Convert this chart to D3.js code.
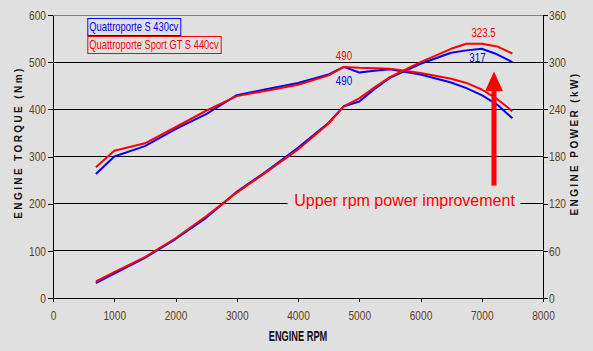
<!DOCTYPE html>
<html>
<head>
<meta charset="utf-8">
<script src="https://cdn.jsdelivr.net/npm/d3@7"></script>
<style>
  body { margin: 0; background: #e0e0e0; }
  svg { display: block; }
</style>
</head>
<body>
<div id="main_plot"></div>
<script>
// data
var rpm = [700, 1000, 1500, 2000, 2500, 3000, 3500, 4000, 4500, 4750, 5000, 5250, 5500, 6000, 6500, 6750, 7000, 7250, 7500];
var torqueS = [263, 300, 322, 358, 390, 430, 443, 456, 474, 490, 478, 482, 485, 474, 457, 445, 430, 410, 381];
var torqueGT = [277, 312, 328, 362, 397, 428, 440, 452, 472, 490, 488, 487, 486, 477, 465, 456, 442, 422, 396];
var powerS = [19, 31, 51, 75, 102, 135, 162, 191, 223, 244, 250, 266, 280, 298, 312, 315, 317, 310, 300];
var powerGT = [21, 33, 52, 76, 104, 134, 161, 189, 222, 244, 254, 268, 281, 300, 317, 323.5, 323.5, 320, 311];
var seriesNames = ["Quattroporte S 430cv", "Quattroporte Sport GT S 440cv"];
var xTicks = [0, 1000, 2000, 3000, 4000, 5000, 6000, 7000, 8000];
var yLeftTicks = [0, 100, 200, 300, 400, 500, 600];
var yRightTicks = [0, 60, 120, 180, 240, 300, 360];

// set the dimensions and margins of the graph
var W = 593, H = 351;
var margin = {top: 15, right: 50, bottom: 53, left: 53},
    width = W - margin.left - margin.right,
    height = H - margin.top - margin.bottom;

var sans = "'Liberation Sans', Arial, sans-serif";
var blue = "#0000ff", red = "#ff0000", labelColor = "#5a4026";

var svg = d3.select("div#main_plot")
  .append("svg")
  .attr("width", W)
  .attr("height", H)
  .append("g")
    .attr("transform", "translate(" + margin.left + "," + margin.top + ")");

// squeeze text to look like Arial Narrow
function narrow(sel, k) {
  sel.each(function() {
    var w = this.getComputedTextLength();
    d3.select(this)
      .attr("textLength", w * (k || 0.8))
      .attr("lengthAdjust", "spacingAndGlyphs");
  });
}

var x = d3.scaleLinear().domain([0, 8000]).range([0, width]);
var yL = d3.scaleLinear().domain([0, 600]).range([height, 0]);
var yR = d3.scaleLinear().domain([0, 360]).range([height, 0]);

// gridlines
svg.append("g")
  .selectAll("line")
  .data(yLeftTicks.slice(1))
  .enter().append("line")
    .attr("x1", 0).attr("x2", width)
    .attr("y1", d => yL(d)).attr("y2", d => yL(d))
    .attr("stroke", d => d === 600 ? "#808080" : "#000")
    .attr("stroke-width", 1)
    .attr("shape-rendering", "crispEdges");

// axes
var xAxis = svg.append("g")
  .attr("transform", "translate(0," + height + ")")
  .call(d3.axisBottom(x).tickValues(xTicks).tickFormat(d3.format("d"))
    .tickSize(4).tickPadding(9).tickSizeOuter(0));

var yAxisL = svg.append("g")
  .call(d3.axisLeft(yL).tickValues(yLeftTicks).tickFormat(d3.format("d"))
    .tickSize(5).tickPadding(2).tickSizeOuter(0));

var yAxisR = svg.append("g")
  .attr("transform", "translate(" + width + ",0)")
  .call(d3.axisRight(yR).tickValues(yRightTicks).tickFormat(d3.format("d"))
    .tickSize(5).tickPadding(1).tickSizeOuter(0));

[xAxis, yAxisL, yAxisR].forEach(function(a) {
  a.selectAll("path, line").attr("stroke", "#000").attr("shape-rendering", "crispEdges");
  a.selectAll("text")
    .attr("font-family", sans)
    .attr("font-size", 13)
    .attr("fill", labelColor)
    .call(narrow, 0.78);
});
xAxis.selectAll("text").attr("dy", "0.71em");

// axis titles
svg.append("text")
  .attr("transform", "translate(" + (-31) + "," + (height / 2 - 14) + ") rotate(-90)")
  .attr("text-anchor", "middle")
  .attr("font-family", sans)
  .attr("font-size", 10)
  .attr("font-weight", "bold")
  .attr("letter-spacing", 2.4)
  .attr("fill", "#111")
  .text("ENGINE TORQUE (Nm)");

svg.append("text")
  .attr("transform", "translate(" + (width + 35) + "," + (height / 2 - 13) + ") rotate(-90)")
  .attr("text-anchor", "middle")
  .attr("font-family", sans)
  .attr("font-size", 10)
  .attr("font-weight", "bold")
  .attr("letter-spacing", 2.4)
  .attr("fill", "#111")
  .text("ENGINE POWER (kW)");

svg.append("text")
  .attr("x", x(4000))
  .attr("y", height + 43)
  .attr("text-anchor", "middle")
  .attr("font-family", sans)
  .attr("font-size", 14)
  .attr("font-weight", "bold")
  .attr("fill", "#111")
  .text("ENGINE RPM")
  .call(narrow, 0.66);

// annotation box hides the 200 gridline
var note = svg.append("g");
note.append("rect")
  .attr("x", x(3830)).attr("y", yL(200) - 18)
  .attr("width", x(7630) - x(3830)).attr("height", 24)
  .attr("fill", "#e0e0e0");
note.append("text")
  .attr("x", x(3940))
  .attr("y", yL(200) + 2)
  .attr("font-family", sans)
  .attr("font-size", 16)
  .attr("fill", red)
  .text("Upper rpm power improvement");

// curves
function drawLine(values, yScale, colour) {
  svg.append("path")
    .datum(d3.zip(rpm, values))
    .attr("fill", "none")
    .attr("stroke", colour)
    .attr("stroke-width", 2)
    .attr("stroke-linejoin", "round")
    .attr("d", d3.line()
      .x(function(d) { return x(d[0]); })
      .y(function(d) { return yScale(d[1]); }));
}
drawLine(torqueS, yL, blue);
drawLine(powerS, yR, blue);
drawLine(torqueGT, yL, red);
drawLine(powerGT, yR, red);

// peak labels
function peakLabel(val, xv, yv, colour, dy) {
  svg.append("text")
    .attr("x", x(xv)).attr("y", yv + dy)
    .attr("text-anchor", "middle")
    .attr("font-family", sans)
    .attr("font-size", 13)
    .attr("fill", colour)
    .text(val)
    .call(narrow, 0.75);
}
peakLabel(d3.max(torqueGT), rpm[torqueGT.indexOf(d3.max(torqueGT))], yL(d3.max(torqueGT)), red, -7);
peakLabel(d3.max(torqueS), rpm[torqueS.indexOf(d3.max(torqueS))], yL(d3.max(torqueS)), blue, 18);
peakLabel(d3.max(powerGT), 7030, yR(d3.max(powerGT)), red, -7);
peakLabel(d3.max(powerS), 6930, yR(d3.max(powerS)), blue, 13);

// red arrow
var ax = x(7200);
svg.append("rect")
  .attr("x", ax - 2.5).attr("y", yR(275))
  .attr("width", 5).attr("height", yR(143) - yR(275))
  .attr("fill", red);
svg.append("path")
  .attr("d", "M" + (ax - 9) + "," + yR(263) + "L" + ax + "," + yR(288) + "L" + (ax + 9) + "," + yR(263) + "Z")
  .attr("fill", red);

// legend
var legend = svg.append("g").attr("transform", "translate(" + (x(560)) + ",3)");
seriesNames.forEach(function(name, i) {
  var c = i === 0 ? blue : red;
  var g = legend.append("g").attr("transform", "translate(0," + (i * 18) + ")");
  var box = g.append("rect")
    .attr("x", 0.5).attr("y", 0.5)
    .attr("height", 17)
    .attr("fill", "#e0e0e0")
    .attr("stroke", c)
    .attr("stroke-width", 1);
  var t = g.append("text")
    .attr("x", 2).attr("y", 13)
    .attr("font-family", sans)
    .attr("font-size", 13)
    .attr("fill", c)
    .text(name)
    .call(narrow, 0.72);
  box.attr("width", +t.attr("textLength") + 4);
});
</script>
</body>
</html>
